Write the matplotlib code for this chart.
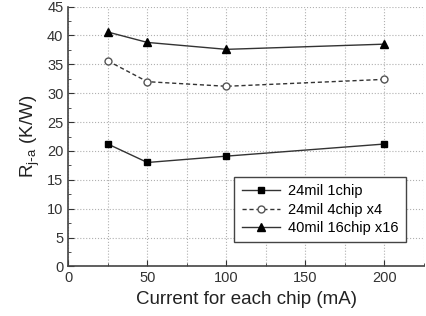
import matplotlib.pyplot as plt
from matplotlib.ticker import MultipleLocator

plt.rcParams['font.family'] = ['Liberation Sans', 'DejaVu Sans']

current = [25, 50, 100, 200]
r_1chip = [21.2, 18.0, 19.1, 21.2]
r_4chip = [35.6, 32.0, 31.2, 32.4]
r_16chip = [40.6, 38.8, 37.6, 38.5]

fig = plt.figure(figsize=(4.27, 3.16), dpi=100)
ax = fig.add_axes([0.16, 0.157, 0.833, 0.822])

ax.plot(current, r_1chip, color='#333333', lw=1, marker='s', ms=5,
        mfc='black', mec='black', label='24mil 1chip')
ax.plot(current, r_4chip, color='#333333', lw=1, ls='--', dashes=(3, 2), marker='o', ms=5,
        mfc='white', mec='#555555', label='24mil 4chip x4')
ax.plot(current, r_16chip, color='#333333', lw=1, marker='^', ms=6,
        mfc='black', mec='black', label='40mil 16chip x16')

ax.set_xlim(0, 225)
ax.set_ylim(0, 45)
ax.xaxis.set_major_locator(MultipleLocator(50))
ax.xaxis.set_minor_locator(MultipleLocator(25))
ax.yaxis.set_major_locator(MultipleLocator(5))
ax.yaxis.set_minor_locator(MultipleLocator(2.5))
ax.grid(True, which='major', color='#b0b0b0', ls=':', lw=0.8)
ax.grid(True, which='minor', axis='x', color='#b0b0b0', ls=':', lw=0.8)
ax.tick_params(which='both', direction='in', labelsize=10.5, colors='#333333')
ax.tick_params(which='major', length=4)
ax.tick_params(which='minor', length=2)

for s in ['top', 'right']:
    ax.spines[s].set_visible(False)
for s in ['left', 'bottom']:
    ax.spines[s].set_color('#444444')
    ax.spines[s].set_linewidth(1.2)

ax.set_xlabel('Current for each chip (mA)', fontsize=13.5, color='#222222')
ax.set_ylabel('R$_{\\mathregular{j\\text{-}a}}$ (K/W)', fontsize=13.5, color='#222222')

leg = ax.legend(loc='lower right', bbox_to_anchor=(0.97, 0.064), fontsize=10.5,
                fancybox=False, framealpha=1, edgecolor='#444444', handlelength=2.6,
                borderpad=0.5, labelspacing=0.3, handletextpad=0.6)
leg.get_frame().set_linewidth(1)

fig.savefig('out.png', dpi=100)
